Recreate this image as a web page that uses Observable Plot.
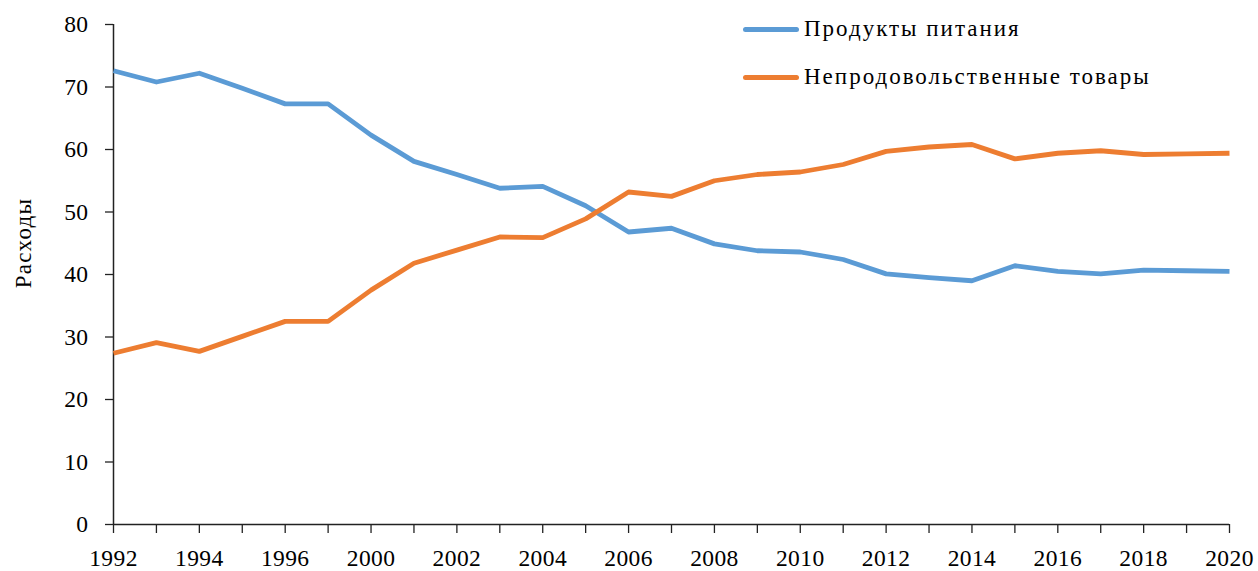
<!DOCTYPE html>
<html>
<head>
<meta charset="utf-8">
<script src="https://cdn.jsdelivr.net/npm/d3@7"></script>
<script src="https://cdn.jsdelivr.net/npm/@observablehq/plot@0.6"></script>
<style>
  html, body { margin: 0; padding: 0; background: #fff; overflow: hidden; }
  #wrap { position: relative; width: 1258px; height: 571px; }
  #wrap > svg { display: block; }
  #legend { position: absolute; left: 743px; top: 5px; font-family: "Liberation Serif", serif; font-size: 23px; letter-spacing: 2px; color: #000; }
  .row { height: 48px; line-height: 48px; display: flex; align-items: center; white-space: nowrap; }
  .sw { display: inline-block; width: 56px; height: 5px; border-radius: 3px; margin-right: 5px; }
  #ylab { position: absolute; left: 0; top: 0; overflow: visible; }
</style>
</head>
<body>
<div id="wrap"><div id="legend"></div></div>
<script>
const years = ["1992","1993","1994","1995","1996","1997","2000","2001","2002","2003","2004","2005","2006","2007","2008","2009","2010","2011","2012","2013","2014","2015","2016","2017","2018","2019","2020"];
const labeledYears = ["1992","1994","1996","2000","2002","2004","2006","2008","2010","2012","2014","2016","2018","2020"];
const yTicks = [0,10,20,30,40,50,60,70,80];
const seriesNames = ["Продукты питания","Непродовольственные товары"];
const seriesColors = ["#5B9BD5","#ED7D31"];
const food = [72.6,70.8,72.2,69.8,67.3,67.3,62.3,58.1,56.0,53.8,54.1,51.0,46.8,47.4,44.9,43.8,43.6,42.4,40.1,39.5,39.0,41.4,40.5,40.1,40.7,40.6,40.5];
const nonfood = [27.4,29.1,27.7,30.1,32.5,32.5,37.5,41.8,43.9,46.0,45.9,48.9,53.2,52.5,55.0,56.0,56.4,57.6,59.7,60.4,60.8,58.5,59.4,59.8,59.2,59.3,59.4];
const yLabel = "Расходы";

const data = [];
years.forEach((y, i) => {
  data.push({year: y, value: food[i], series: seriesNames[0]});
  data.push({year: y, value: nonfood[i], series: seriesNames[1]});
});

const chart = Plot.plot({
  width: 1258,
  height: 571,
  marginLeft: 113,
  marginRight: 29,
  marginTop: 24,
  marginBottom: 47,
  style: { fontFamily: "Liberation Serif, serif", fontSize: "23.5px", color: "#000", background: "#fff", letterSpacing: "0.4px" },
  x: { type: "point", domain: years, padding: 0, round: false },
  y: { domain: [0, 80] },
  color: { domain: seriesNames, range: seriesColors },
  marks: [
    Plot.axisX({ ticks: years, tickSize: 9, tickPadding: 16, tickFormat: d => labeledYears.includes(d) ? d : "", label: null, stroke: "#222", strokeWidth: 1.3, fontSize: 23.5 }),
    Plot.axisY({ ticks: yTicks, tickSize: 8, tickPadding: 17, label: null, stroke: "#222", strokeWidth: 1.3, fontSize: 23.5 }),
    Plot.ruleY([0], { stroke: "#222", strokeWidth: 1.5 }),
    Plot.ruleX([years[0]], { stroke: "#222", strokeWidth: 1.5 }),
    Plot.line(data, { x: "year", y: "value", z: "series", stroke: "series", strokeWidth: 4.8, strokeLinejoin: "round", strokeLinecap: "butt" })
  ]
});
document.getElementById("wrap").prepend(chart);

// y-axis title
const ns = "http://www.w3.org/2000/svg";
const ysvg = document.createElementNS(ns, "svg");
ysvg.setAttribute("id", "ylab");
ysvg.setAttribute("width", "60");
ysvg.setAttribute("height", "571");
const yt = document.createElementNS(ns, "text");
yt.setAttribute("transform", "translate(31,243) rotate(-90)");
yt.setAttribute("text-anchor", "middle");
yt.setAttribute("font-family", "Liberation Serif, serif");
yt.setAttribute("font-size", "23");
yt.setAttribute("letter-spacing", "1.3");
yt.setAttribute("fill", "#000");
yt.textContent = yLabel;
ysvg.appendChild(yt);
document.getElementById("wrap").appendChild(ysvg);

const legend = document.getElementById("legend");
seriesNames.forEach((name, i) => {
  const row = document.createElement("div");
  row.className = "row";
  const sw = document.createElement("span");
  sw.className = "sw";
  sw.style.background = seriesColors[i];
  const t = document.createElement("span");
  t.textContent = name;
  row.appendChild(sw);
  row.appendChild(t);
  legend.appendChild(row);
});
</script>
</body>
</html>
